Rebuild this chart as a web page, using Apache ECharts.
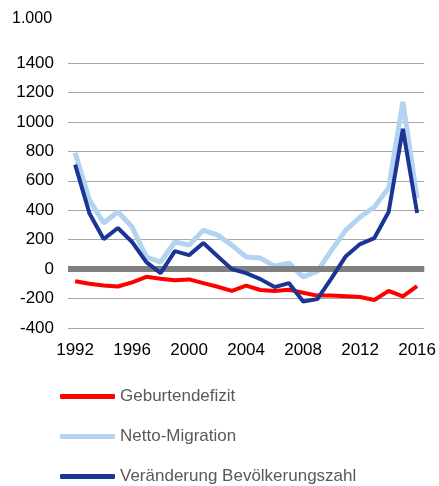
<!DOCTYPE html>
<html>
<head>
<meta charset="utf-8">
<script src="https://cdn.jsdelivr.net/npm/echarts@6/dist/echarts.min.js"></script>
<style>
  html, body { margin: 0; padding: 0; background: #fff; }
  #main { width: 439px; height: 486px; }
</style>
</head>
<body>
<div id="main"></div>
<script>
var years = ['1992','1993','1994','1995','1996','1997','1998','1999','2000','2001','2002','2003','2004',
             '2005','2006','2007','2008','2009','2010','2011','2012','2013','2014','2015','2016'];
var geburtendefizit = [-82,-100,-112,-118,-90,-52,-65,-75,-70,-95,-120,-148,-112,-142,-148,-140,-160,-180,-180,-185,-190,-210,-148,-185,-116];
var nettoMigration = [790,470,313,390,286,82,48,184,163,265,231,163,82,75,20,41,-54,-14,129,265,354,422,551,1136,480];
var veraenderung = [710,380,204,279,184,48,-27,122,95,177,88,0,-27,-68,-122,-95,-220,-204,-61,88,170,211,388,952,381];
var seriesNames = ['Geburtendefizit', 'Netto-Migration', 'Veränderung Bevölkerungszahl'];

var myChart = echarts.init(document.getElementById('main'));
var font = 'Liberation Sans, Arial, sans-serif';
var option = {
    animation: false,
    textStyle: { fontFamily: font },
    title: {
        text: '1.000',
        left: 7,
        top: 6,
        textStyle: { fontSize: 16, fontWeight: 'normal', color: '#000', fontFamily: font }
    },
    grid: { left: 68, right: 14, top: 63, bottom: 158 },
    legend: {
        data: seriesNames,
        orient: 'vertical',
        left: 60,
        top: 388,
        height: 140,
        padding: 0,
        itemWidth: 55,
        itemHeight: 5,
        itemGap: 23,
        icon: 'roundRect',
        textStyle: { fontSize: 17, color: '#595959', fontFamily: font }
    },
    xAxis: {
        type: 'category',
        data: years,
        boundaryGap: true,
        axisLine: { show: false },
        axisTick: { show: false },
        axisLabel: { interval: 3, fontSize: 17, color: '#000', margin: 14 }
    },
    yAxis: {
        type: 'value',
        min: -400,
        max: 1400,
        interval: 200,
        axisLine: { show: false },
        axisTick: { show: false },
        axisLabel: { fontSize: 17, color: '#000', margin: 14, formatter: function (v) { return String(v); } },
        splitLine: { lineStyle: { color: '#a6a6a6', width: 1 } }
    },
    series: [{
        name: 'nulllinie',
        type: 'line',
        data: [],
        z: 1,
        markLine: {
            silent: true,
            symbol: 'none',
            label: { show: false },
            lineStyle: { color: '#7f7f7f', width: 6, type: 'solid' },
            data: [{ yAxis: 0 }]
        }
    }, {
        name: seriesNames[0],
        type: 'line',
        data: geburtendefizit,
        symbol: 'none',
        lineStyle: { color: '#ff0000', width: 4 },
        itemStyle: { color: '#ff0000' },
        z: 3
    }, {
        name: seriesNames[1],
        type: 'line',
        data: nettoMigration,
        symbol: 'none',
        lineStyle: { color: '#b4d3f0', width: 5 },
        itemStyle: { color: '#b4d3f0' },
        z: 4
    }, {
        name: seriesNames[2],
        type: 'line',
        data: veraenderung,
        symbol: 'none',
        lineStyle: { color: '#1a3596', width: 4 },
        itemStyle: { color: '#1a3596' },
        z: 5
    }]
};
myChart.setOption(option);
</script>
</body>
</html>
